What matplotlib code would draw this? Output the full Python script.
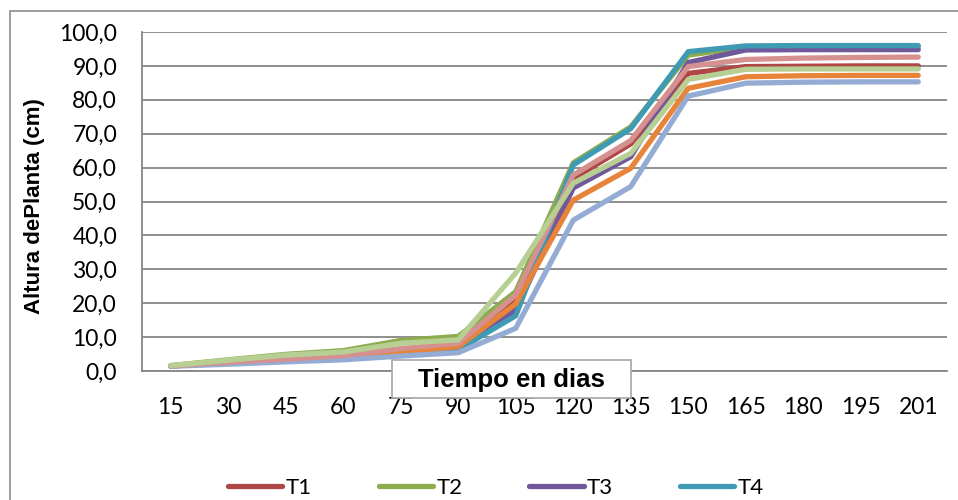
import matplotlib.pyplot as plt
from matplotlib.patches import Rectangle

# dias de medicion
dias = ['15', '30', '45', '60', '75', '90', '105', '120', '135', '150', '165', '180', '195', '201']

# altura de planta (cm) por tratamiento
t1 = [1.5, 2.5, 3.3, 4.2, 5.8, 7.6, 20.6, 56.8, 67.0, 87.8, 89.8, 89.9, 90.0, 90.0]
t2 = [1.6, 3.3, 4.9, 6.0, 9.0, 10.2, 23.4, 61.4, 72.0, 93.2, 95.5, 95.6, 95.7, 95.7]
t3 = [1.5, 2.4, 3.1, 3.8, 5.3, 6.8, 18.0, 54.0, 63.2, 91.0, 94.7, 94.8, 94.8, 94.8]
t4 = [1.5, 2.3, 3.0, 3.6, 5.0, 6.3, 16.3, 60.8, 71.5, 94.2, 95.9, 96.0, 96.0, 96.0]
t5 = [1.5, 2.4, 3.2, 4.0, 5.5, 7.2, 19.8, 50.4, 59.8, 83.4, 86.8, 87.1, 87.2, 87.2]
t6 = [1.4, 2.0, 2.7, 3.3, 4.4, 5.4, 12.6, 44.5, 54.4, 81.1, 84.9, 85.2, 85.3, 85.3]
t7 = [1.5, 2.6, 3.5, 4.5, 6.6, 8.2, 22.4, 57.8, 68.0, 89.8, 91.9, 92.3, 92.5, 92.6]
t8 = [1.6, 3.2, 4.7, 5.6, 8.2, 9.2, 28.9, 55.4, 64.2, 86.0, 89.0, 89.1, 89.1, 89.1]

series = [('T1', t1), ('T2', t2), ('T3', t3), ('T4', t4),
          ('T5', t5), ('T6', t6), ('T7', t7), ('T8', t8)]
colores = ['#AE4745', '#8CAC4E', '#71589A', '#3F9AB4',
           '#E8843A', '#94ACD3', '#D5918F', '#B8CF93']

W, H = 958, 500
fig = plt.figure(figsize=(W / 100, H / 100), dpi=100)
ax = fig.add_axes([142 / W, 1 - 371 / H, (947 - 142) / W, (371 - 32) / H])

x = list(range(len(dias)))
lineas = []
for (nombre, vals), c in zip(series, colores):
    ln, = ax.plot(x, vals, color=c, lw=3.8, label=nombre,
                  solid_joinstyle='round', solid_capstyle='round')
    lineas.append(ln)

ax.set_xlim(-0.5, len(dias) - 0.5)
ax.set_ylim(0, 100)
ax.set_yticks(range(0, 101, 10))
ax.set_yticklabels([f'{v:.1f}'.replace('.', ',') for v in range(0, 101, 10)])
ax.set_xticks(x)
ax.set_xticklabels(dias)

ax.yaxis.grid(True, color='#868686', lw=1.3)
ax.set_axisbelow(True)
for s in ['top', 'right']:
    ax.spines[s].set_visible(False)
for s in ['left', 'bottom']:
    ax.spines[s].set_color('#868686')
    ax.spines[s].set_linewidth(1.3)
ax.tick_params(length=0, labelsize=16.5)
ax.tick_params(axis='y', pad=18)
ax.tick_params(axis='x', pad=19)
for lab in ax.get_xticklabels() + ax.get_yticklabels():
    lab.set_fontfamily('Lato')

# borde exterior del grafico
fig.patches.append(Rectangle((10 / W, -0.1), 1.2, 1.1 - 11 / H, transform=fig.transFigure,
                             facecolor='none', edgecolor='#8C8C8C', lw=1.2))

fig.text(35 / W, 1 - 206 / H, 'Altura dePlanta (cm)', rotation=90, ha='center', va='center',
         fontsize=16, fontweight='bold', family='Liberation Sans')

# titulo del eje x dentro de un recuadro
fig.patches.append(Rectangle((392 / W, 1 - 398 / H), 239 / W, 38 / H, transform=fig.transFigure,
                             facecolor='white', edgecolor='#A6A6A6', lw=1.2, zorder=5))
fig.text(511 / W, 1 - 380 / H, 'Tiempo en dias', ha='center', va='center',
         fontsize=18.5, fontweight='bold', family='Liberation Sans', zorder=6)

fig.legend(handles=lineas[:4], loc='upper left', bbox_to_anchor=(228 / W, 1 - 478 / H),
           ncol=4, frameon=False, borderpad=0, borderaxespad=0,
           handlelength=2.45, handletextpad=0.15, columnspacing=3.0,
           prop={'family': 'Lato', 'size': 16})

fig.savefig('out.png', dpi=100)
